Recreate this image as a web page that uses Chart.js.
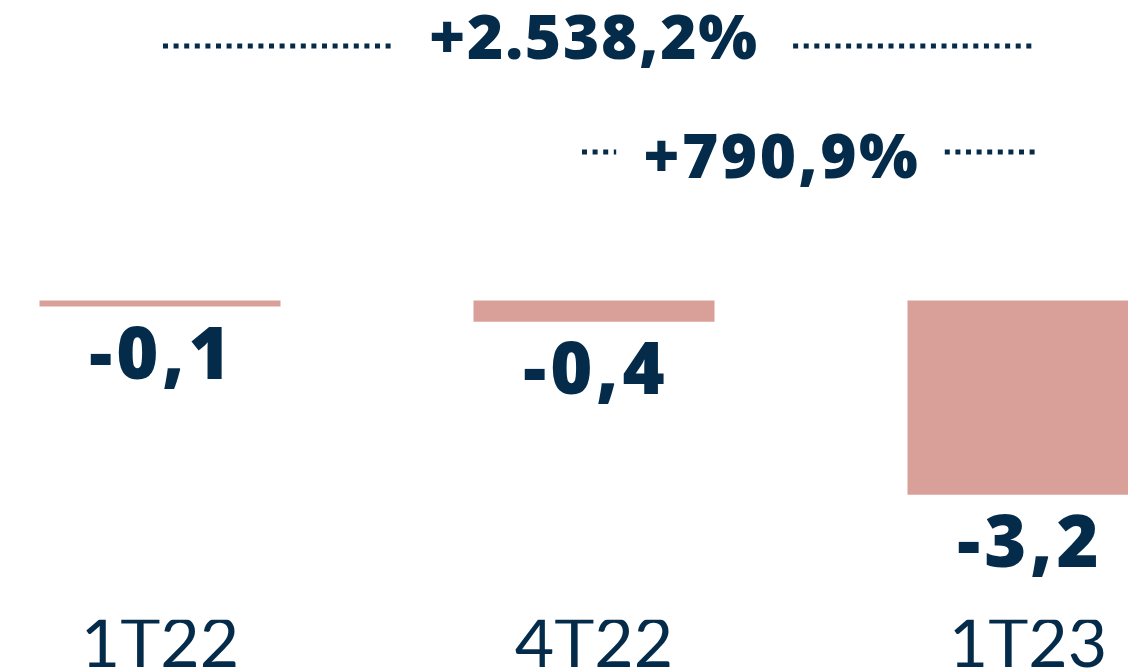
<!DOCTYPE html>
<html>
<head>
<meta charset="utf-8">
<script src="https://cdn.jsdelivr.net/npm/chart.js@4.4.0/dist/chart.umd.min.js"></script>
<style>
  html, body { margin: 0; padding: 0; background: #ffffff; overflow: hidden; }
  #wrap { position: absolute; left: -57px; top: 0; width: 1302px; height: 670px; }
</style>
</head>
<body>
<div id="wrap"><canvas id="c" width="1302" height="670"></canvas></div>
<script>
// ---- data ----
const categories = ['1T22', '4T22', '1T23'];
const values = [-0.1, -0.35, -3.2];
const valueLabels = ['-0,1', '-0,4', '-3,2'];
const changeLabels = ['+2.538,2%', '+790,9%'];
const changeFrom = [0, 1];
const changeTo = [2, 2];

const NAVY = '#042b4a';
const PINK = '#d9a09a';

function spacedText(ctx, t, cx, y, sp) {
  // draw centered text with letter spacing
  const chars = [...t];
  const widths = chars.map(c => ctx.measureText(c).width);
  const total = widths.reduce((a, b) => a + b, 0) + sp * (chars.length - 1);
  let x = cx - total / 2;
  const prevAlign = ctx.textAlign;
  ctx.textAlign = 'left';
  chars.forEach((c, i) => { ctx.fillText(c, x, y); x += widths[i] + sp; });
  ctx.textAlign = prevAlign;
  return total;
}

const annotationPlugin = {
  id: 'annots',
  afterDatasetsDraw(chart) {
    const ctx = chart.ctx;
    const meta = chart.getDatasetMeta(0);
    ctx.save();
    ctx.fillStyle = NAVY;
    ctx.textBaseline = 'alphabetic';
    // value labels under bars
    ctx.font = '800 72px "Open Sans", sans-serif';
    meta.data.forEach((bar, i) => {
      spacedText(ctx, valueLabels[i], bar.x, bar.y + 72, 4);
    });
    // change annotations
    const xs = chart.scales.x;
    const layout = [
      { base: 59, dotY: 46, x0: 3, x1: 5, shift: -5, gap: 36, sp: 1.8 },
      { base: 178, dotY: 152, x0: -12, x1: 7, shift: -28, gap: 27, sp: 2.5 }
    ];
    ctx.font = '800 62px "Open Sans", sans-serif';
    changeLabels.forEach((t, i) => {
      const L = layout[i];
      const a = xs.getPixelForValue(changeFrom[i]) + L.x0;
      const b = xs.getPixelForValue(changeTo[i]) + L.x1;
      const cx = (a + b) / 2 + L.shift;
      ctx.fillStyle = NAVY;
      const w = spacedText(ctx, t, cx, L.base, L.sp);
      ctx.strokeStyle = NAVY;
      ctx.lineWidth = 5;
      ctx.setLineDash([5, 5.6]);
      ctx.beginPath();
      ctx.moveTo(a, L.dotY); ctx.lineTo(cx - w / 2 - L.gap, L.dotY);
      ctx.moveTo(cx + w / 2 + L.gap, L.dotY); ctx.lineTo(b, L.dotY);
      ctx.stroke();
    });
    ctx.restore();
  }
};

new Chart(document.getElementById('c'), {
  type: 'bar',
  data: {
    labels: categories,
    datasets: [{
      data: values,
      backgroundColor: PINK,
      borderWidth: 0,
      barPercentage: 1,
      categoryPercentage: 0.5553
    }]
  },
  options: {
    responsive: false,
    animation: false,
    layout: { padding: 0 },
    plugins: { legend: { display: false }, tooltip: { enabled: false } },
    scales: {
      y: { display: false, min: -5.26, max: 4.948 },
      x: {
        grid: { display: false, drawTicks: false },
        border: { display: false },
        ticks: {
          color: NAVY,
          padding: 4,
          font: { family: 'Lato', size: 68, weight: 400, lineHeight: 0.62 }
        }
      }
    }
  },
  plugins: [annotationPlugin]
});
</script>
</body>
</html>
